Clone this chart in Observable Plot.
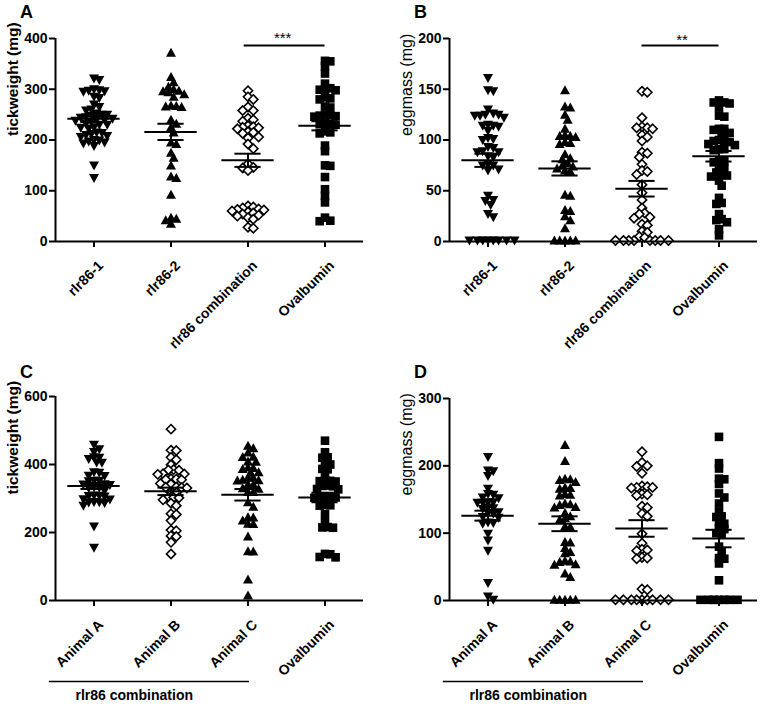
<!DOCTYPE html>
<html><head><meta charset="utf-8">
<script src="https://cdn.jsdelivr.net/npm/d3@7"></script>
<script src="https://cdn.jsdelivr.net/npm/@observablehq/plot@0.6"></script>
<style>
body{margin:0;background:#fff;}
#fig{position:relative;width:760px;height:706px;overflow:hidden;background:#fff;}
#fig svg{position:absolute;overflow:visible;}
.letter{position:absolute;font-family:'Liberation Sans',Arial,sans-serif;font-weight:bold;font-size:18px;line-height:18px;}
</style></head><body><div id="fig"></div>
<script>
// ---------- data ----------
const catsAB = ["rlr86-1", "rlr86-2", "rlr86 combination", "Ovalbumin"];
const catsCD = ["Animal A", "Animal B", "Animal C", "Ovalbumin"];
const bracketLabel = "rlr86 combination";
const panelLetters = ["A", "B", "C", "D"];

// Panel A: tickweight (mg)
const A_rlr1 = [321,318,300,298,297,296,295,285,283,270,265,260,258,252,250,250,248,245,244,242,240,240,238,236,232,230,230,225,224,222,215,214,212,210,208,206,200,199,197,195,193,188,150,125];
const A_rlr2 = [372,324,314,305,300,297,296,294,290,285,268,267,266,265,240,232,225,215,195,192,175,165,150,128,125,92,47,45,42,35];
const A_comb = [297,285,280,265,258,258,243,240,237,228,226,225,224,222,216,215,213,206,204,192,183,153,146,145,140,70,68,66,64,63,62,60,58,56,54,52,50,47,44,28,26];
const A_oval = [356,355,345,331,311,302,300,299,298,284,282,280,266,264,250,249,248,247,246,234,232,231,230,217,215,213,189,178,150,149,127,103,90,77,47,41,40];
const A_mean = [242, 216, 160, 228];
const A_sem  = [6.5, 16, 13, 9];
const A_ticks = [0, 100, 200, 300, 400];

// Panel B: eggmass (mg)
const B_rlr1 = [161,149,148,130,126,125,125,124,124,122,115,114,114,113,109,102,101,100,93,92,89,88,88,84,83,76,75,75,71,70,45,41,40,36,27,24,1,1,1,1,1,1,1,1];
const B_rlr2 = [149,133,132,125,120,111,105,104,104,103,98,97,96,86,82,81,77,75,74,72,70,69,46,45,31,30,25,21,13,1,1,1,1,1];
const B_comb = [148,147,122,113,112,112,111,105,103,99,88,87,83,76,70,69,66,56,48,41,33,28,27,24,23,17,16,10,9,5,4,1,1,1,1,1,1,1,1];
const B_oval = [139,137,137,136,132,124,123,111,111,110,107,106,100,99,99,98,96,95,91,91,90,80,79,78,73,72,68,67,65,64,60,55,43,38,37,27,22,21,19,12,6];
const B_mean = [80, 72, 52, 84];
const B_sem  = [6.5, 7, 7.7, 5.2];
const B_ticks = [0, 50, 100, 150, 200];

// Panel C: tickweight (mg)
const C_animA = [458,445,437,421,420,416,406,405,377,376,367,366,352,352,351,342,341,340,333,332,331,323,309,308,307,306,298,297,290,289,288,287,279,218,155];
const C_animB = [504,442,441,421,414,399,385,384,383,373,372,371,358,357,356,355,344,342,334,333,332,331,319,317,304,303,302,296,286,279,255,253,235,207,205,190,188,171,137];
const C_animC = [455,448,435,423,422,409,408,391,390,387,377,376,362,361,355,354,353,342,341,330,329,320,319,289,276,245,244,235,226,225,188,145,144,62,15];
const C_oval  = [470,436,421,420,401,400,387,386,372,353,352,351,350,338,337,336,328,327,306,305,304,303,302,281,280,279,254,230,216,215,214,137,136,128,127];
const C_mean = [337, 321, 311, 303];
const C_sem  = [9, 11, 17, 14];
const C_ticks = [0, 200, 400, 600];

// Panel D: eggmass (mg)
const D_animA = [213,193,192,185,166,158,157,153,152,146,146,145,145,138,137,136,131,130,129,124,123,116,115,114,99,89,74,26,6,1];
const D_animB = [231,207,181,180,179,176,168,167,166,158,157,156,144,143,142,139,138,130,125,122,120,110,109,87,86,78,72,70,59,58,57,54,53,40,35,1,1,1,1,1];
const D_animC = [221,205,200,199,189,170,169,168,168,167,158,157,156,140,138,129,125,99,85,76,75,74,64,63,62,17,16,1,1,1,1,1,1,1,1,1];
const D_oval  = [243,204,196,181,180,173,159,153,144,132,125,124,115,114,107,106,100,99,80,73,63,62,55,30,1,1,1,1,1,1,1];
const D_mean = [126, 114, 107, 92];
const D_sem  = [7.4, 11, 12.3, 13];
const D_ticks = [0, 100, 200, 300];

// ---------- symbols ----------
const rOf = size => Math.sqrt(size / Math.PI);
const triDown = {draw(c, s){const r=rOf(s); c.moveTo(-r,-0.8*r); c.lineTo(r,-0.8*r); c.lineTo(0,r); c.closePath();}};
const triUp   = {draw(c, s){const r=rOf(s); c.moveTo(-r,0.8*r); c.lineTo(r,0.8*r); c.lineTo(0,-r); c.closePath();}};
const square  = {draw(c, s){const r=rOf(s); c.moveTo(-r,-r); c.lineTo(r,-r); c.lineTo(r,r); c.lineTo(-r,r); c.closePath();}};
const diamond = {draw(c, s){const r=rOf(s); c.moveTo(0,-r); c.lineTo(r,0); c.lineTo(0,r); c.lineTo(-r,0); c.closePath();}};
const S_down = {sym: triDown, r: 5, fill: "black", stroke: "none", sw: 0};
const S_up   = {sym: triUp,   r: 5, fill: "black", stroke: "none", sw: 0};
const S_sq   = {sym: square,  r: 4.3, fill: "black", stroke: "none", sw: 0};
const S_dia  = {sym: diamond, r: 4.6, fill: "white", stroke: "black", sw: 1.6};

const FONT = "'Liberation Sans', Arial, Helvetica, sans-serif";

// deterministic beeswarm layout (pixel offsets)
function swarm(vals, pxY, d, step) {
  const idx = vals.map((_, i) => i).sort((a, b) => vals[b] - vals[a]);
  const placed = [], offs = new Array(vals.length);
  for (const i of idx) {
    const y = vals[i] * pxY;
    for (let k = 0; ; k++) {
      const o = k === 0 ? 0 : (k % 2 ? 1 : -1) * Math.ceil(k / 2) * step;
      if (placed.every(p => (p.x - o) ** 2 + (p.y - y) ** 2 >= d * d)) {
        placed.push({x: o, y}); offs[i] = o; break;
      }
    }
  }
  return offs;
}

function panel(cfg) {
  const {series, means, sems, syms, ymax, yticks, ylabel, ylabelWeight, ylabelSize, ylabelDx, letter, cats,
         W, H, ml, mr, mt, mb, left, top, extra} = cfg;
  const pxY = (H - mt - mb) / ymax;
  const pxX = (W - ml - mr) / 4;
  const marks = [];
  series.forEach((vals, g) => {
    const offs = swarm(vals, pxY, 5.3, 2.65);
    const rows = vals.map((v, i) => ({x: g + offs[i] / pxX, v}));
    const s = syms[g];
    marks.push(Plot.dot(rows, {x: "x", y: "v", symbol: s.sym, r: s.r, fill: s.fill, stroke: s.stroke, strokeWidth: s.sw}));
  });
  const stats = means.map((m, g) => ({g, m, lo: m - sems[g], hi: m + sems[g]}));
  marks.push(Plot.ruleY(stats, {y: "m", x1: d => d.g - 0.34, x2: d => d.g + 0.34, strokeWidth: 2}));
  marks.push(Plot.ruleY(stats, {y: "lo", x1: d => d.g - 0.17, x2: d => d.g + 0.17, strokeWidth: 2}));
  marks.push(Plot.ruleY(stats, {y: "hi", x1: d => d.g - 0.17, x2: d => d.g + 0.17, strokeWidth: 2}));
  marks.push(Plot.ruleX(stats, {x: "g", y1: "lo", y2: "hi", strokeWidth: 2}));
  // axis lines
  marks.push(Plot.ruleX([-0.5], {y1: 0, y2: ymax, strokeWidth: 2}));
  marks.push(Plot.ruleY([0], {x1: -0.5, x2: 3.5, strokeWidth: 2}));
  marks.push(Plot.axisY(yticks, {tickSize: 6, tickPadding: 2, strokeWidth: 2, fontSize: 14, fontWeight: "bold", label: null}));
  marks.push(Plot.axisX([0, 1, 2, 3], {tickFormat: () => "", tickSize: 6, strokeWidth: 2, label: null}));
  marks.push(Plot.text([0, 1, 2, 3], {x: d => d, y: 0, text: d => cats[d], rotate: -45, textAnchor: "end",
    lineAnchor: "top", dx: 3, dy: 18, fontSize: 14, fontWeight: "bold"}));
  marks.push(Plot.text([ylabel], {frameAnchor: "left", rotate: -90, dx: ylabelDx, dy: -4, fontSize: ylabelSize,
    fontWeight: ylabelWeight, text: d => d}));
  if (extra) marks.push(...extra);
  const svg = Plot.plot({
    width: W, height: H, marginLeft: ml, marginRight: mr, marginTop: mt, marginBottom: mb,
    x: {domain: [-0.5, 3.5], axis: null},
    y: {domain: [0, ymax], axis: null},
    style: {fontFamily: FONT, color: "black", background: "transparent", overflow: "visible"},
    marks
  });
  svg.style.left = left + "px";
  svg.style.top = top + "px";
  const fig = document.getElementById("fig");
  fig.appendChild(svg);
  const lab = document.createElement("div");
  lab.className = "letter";
  lab.textContent = letter;
  lab.style.left = (left + ml - 35) + "px";
  lab.style.top = (top + 3) + "px";
  fig.appendChild(lab);
}

panel({
  series: [A_rlr1, A_rlr2, A_comb, A_oval], means: A_mean, sems: A_sem,
  syms: [S_down, S_up, S_dia, S_sq], ymax: 400, yticks: A_ticks,
  ylabel: "tickweight (mg)", ylabelWeight: "bold", ylabelSize: 15.5, ylabelDx: -42, letter: panelLetters[0], cats: catsAB,
  W: 380, H: 360, ml: 55, mr: 17, mt: 38, mb: 119, left: 0, top: 0,
  extra: [
    Plot.ruleY([386], {x1: 1.95, x2: 3.0, strokeWidth: 2}),
    Plot.text(["***"], {x: 2.45, y: 400, text: d => d, fontSize: 15})
  ]
});
panel({
  series: [B_rlr1, B_rlr2, B_comb, B_oval], means: B_mean, sems: B_sem,
  syms: [S_down, S_up, S_dia, S_sq], ymax: 200, yticks: B_ticks,
  ylabel: "eggmass (mg)", ylabelWeight: "normal", ylabelSize: 16, ylabelDx: -43, letter: panelLetters[1], cats: catsAB,
  W: 380, H: 360, ml: 69, mr: 3, mt: 38, mb: 119, left: 380, top: 0,
  extra: [
    Plot.ruleY([193], {x1: 2.0, x2: 3.0, strokeWidth: 2}),
    Plot.text(["**"], {x: 2.52, y: 198, text: d => d, fontSize: 15})
  ]
});
panel({
  series: [C_animA, C_animB, C_animC, C_oval], means: C_mean, sems: C_sem,
  syms: [S_down, S_dia, S_up, S_sq], ymax: 600, yticks: C_ticks,
  ylabel: "tickweight (mg)", ylabelWeight: "bold", ylabelSize: 15.5, ylabelDx: -42, letter: panelLetters[2], cats: catsCD,
  W: 380, H: 346, ml: 55, mr: 17, mt: 36, mb: 106, left: 0, top: 360,
  extra: [
    Plot.ruleY([0], {x1: -0.58, x2: 2.02, dy: 81, strokeWidth: 1.5}),
    Plot.text([bracketLabel], {x: -0.24, y: 0, dy: 95, textAnchor: "start", text: d => d, fontSize: 14, fontWeight: "bold"})
  ]
});
panel({
  series: [D_animA, D_animB, D_animC, D_oval], means: D_mean, sems: D_sem,
  syms: [S_down, S_up, S_dia, S_sq], ymax: 300, yticks: D_ticks,
  ylabel: "eggmass (mg)", ylabelWeight: "normal", ylabelSize: 16, ylabelDx: -43, letter: panelLetters[3], cats: catsCD,
  W: 380, H: 346, ml: 69, mr: 3, mt: 38, mb: 106, left: 380, top: 360,
  extra: [
    Plot.ruleY([0], {x1: -0.58, x2: 2.02, dy: 81, strokeWidth: 1.5}),
    Plot.text([bracketLabel], {x: -0.24, y: 0, dy: 95, textAnchor: "start", text: d => d, fontSize: 14, fontWeight: "bold"})
  ]
});
</script></body></html>
